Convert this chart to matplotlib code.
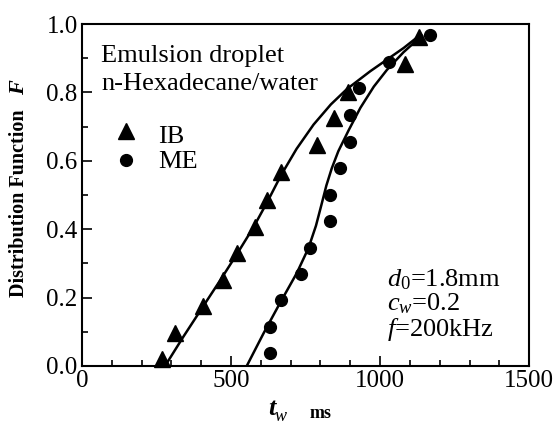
import matplotlib
matplotlib.use("Agg")
import matplotlib.pyplot as plt
from matplotlib.ticker import MultipleLocator, FormatStrFormatter

plt.rcParams["font.family"] = "Liberation Serif"
plt.rcParams["mathtext.fontset"] = "custom"
plt.rcParams["mathtext.rm"] = "Liberation Serif"
plt.rcParams["mathtext.it"] = "Liberation Serif:italic"
plt.rcParams["mathtext.bf"] = "Liberation Serif:bold"

# measured points
ib_t = [268, 312, 405, 473, 521, 581, 622, 668, 788, 844, 894, 1085, 1130]
ib_F = [0.02, 0.096, 0.175, 0.251, 0.33, 0.407, 0.486, 0.566, 0.645, 0.724, 0.802, 0.882, 0.963]
me_t = [631, 631, 667, 734, 766, 833, 833, 867, 900, 900, 931, 1029, 1169]
me_F = [0.038, 0.115, 0.192, 0.27, 0.346, 0.423, 0.501, 0.58, 0.656, 0.734, 0.812, 0.889, 0.968]

# fitted curves
ib_fit_t = [279, 340, 405, 465, 522, 575, 622, 668, 720, 777, 835, 889, 967, 1023, 1079, 1130]
ib_fit_F = [0.0, 0.085, 0.172, 0.252, 0.33, 0.405, 0.48, 0.558, 0.635, 0.706, 0.765, 0.81, 0.862, 0.896, 0.93, 0.965]
me_fit_t = [553, 609, 665, 721, 760, 785, 803, 820, 838, 860, 895, 934, 979, 1023, 1079, 1140]
me_fit_F = [0.0, 0.095, 0.185, 0.272, 0.345, 0.41, 0.47, 0.528, 0.578, 0.628, 0.69, 0.755, 0.817, 0.866, 0.918, 0.966]

fig = plt.figure(figsize=(5.57, 4.30), dpi=100)
ax = fig.add_axes([0.147, 0.149, 0.803, 0.795])

ax.plot(ib_fit_t, ib_fit_F, color="black", lw=1.8)
ax.plot(me_fit_t, me_fit_F, color="black", lw=1.8)
ax.plot(ib_t, ib_F, "^", color="black", ms=11, clip_on=False)
ax.plot(me_t, me_F, "o", color="black", ms=8.5, clip_on=False)

ax.set_xlim(0, 1500)
ax.set_ylim(0, 1.0)
ax.xaxis.set_major_locator(MultipleLocator(500))
ax.xaxis.set_minor_locator(MultipleLocator(100))
ax.yaxis.set_major_locator(MultipleLocator(0.2))
ax.yaxis.set_minor_locator(MultipleLocator(0.1))
ax.yaxis.set_major_formatter(FormatStrFormatter("%.1f"))
ax.tick_params(which="both", direction="in", labelsize=18, width=1.2)
ax.tick_params(which="major", length=7, pad=3)
ax.tick_params(which="minor", length=4)
for s in ax.spines.values():
    s.set_linewidth(1.5)

ax.text(64, 0.889, "Emulsion droplet", fontsize=19, va="baseline", ha="left")
ax.text(64, 0.807, "n-Hexadecane/water", fontsize=19, va="baseline", ha="left")

# legend
ax.plot([148], [0.687], "^", color="black", ms=11)
ax.plot([148], [0.602], "o", color="black", ms=8.5)
ax.text(255, 0.652, "IB", fontsize=19, va="baseline")
ax.text(255, 0.579, "ME", fontsize=19, va="baseline")

ax.text(1022, 0.234, r"$d_{\mathit{0}}$=1.8mm", fontsize=19, va="baseline")
ax.text(1022, 0.162, r"$c_{w}$=0.2", fontsize=19, va="baseline")
ax.text(1022, 0.088, r"$f$=200kHz", fontsize=19, va="baseline")

fig.text(0.488, 0.035, "t", fontsize=19, ha="center", va="baseline",
         weight="bold", style="italic")
fig.text(0.503, 0.022, "w", fontsize=13, ha="center", va="baseline", style="italic")
fig.text(0.575, 0.028, "ms", fontsize=13, ha="center", va="baseline", weight="bold")
fig.text(0.034, 0.528, "Distribution Function", fontsize=14.5, rotation=90,
         ha="center", va="center", weight="bold")
fig.text(0.034, 0.797, "F", fontsize=16, rotation=90, ha="center", va="center",
         weight="bold", style="italic")

fig.savefig("out.png", dpi=100)
